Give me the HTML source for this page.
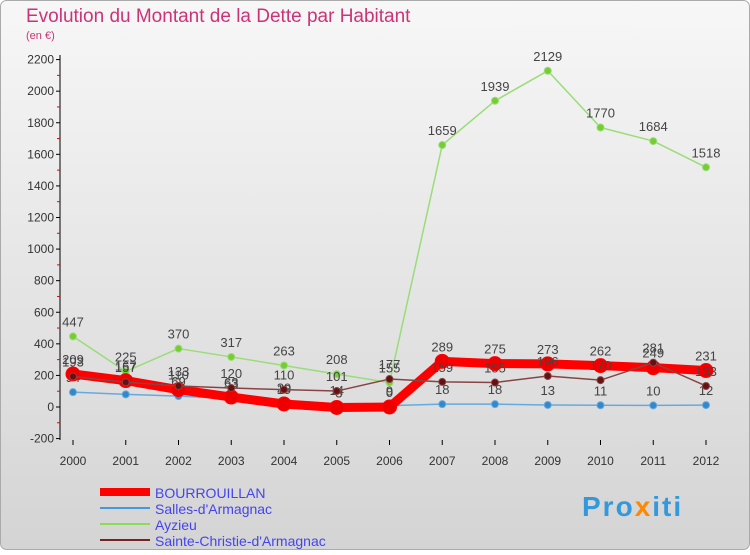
<!DOCTYPE html>
<html><head><meta charset="utf-8"><style>
body{margin:0;background:#fff}
#c{width:750px;height:550px;position:relative;font-family:"Liberation Sans",sans-serif}
text{font-family:"Liberation Sans",sans-serif}
</style></head><body>
<div id="c">
<svg id="s" width="750" height="550" xmlns="http://www.w3.org/2000/svg">
<defs><linearGradient id="bg" x1="0" y1="0" x2="0" y2="1"><stop offset="0" stop-color="#f7f7f7"/><stop offset="1" stop-color="#d4d4d4"/></linearGradient></defs>
<rect x="0.5" y="0.5" width="749" height="549" rx="6" fill="url(#bg)" stroke="#aaa"/>
<text x="26" y="22" font-size="19" fill="#cc3377">Evolution du Montant de la Dette par Habitant</text>
<text x="26" y="39" font-size="11" fill="#cc3377">(en €)</text>
<g id="axes"></g><g id="series"></g>
<g>
<line x1="100" y1="492" x2="150" y2="492" stroke="#ff0000" stroke-width="8"/>
<text x="155" y="498" font-size="14" fill="#4444ee">BOURROUILLAN</text>
<line x1="100" y1="508" x2="150" y2="508" stroke="#4499dd" stroke-width="2"/>
<text x="155" y="514" font-size="14" fill="#4444ee">Salles-d'Armagnac</text>
<line x1="100" y1="524" x2="150" y2="524" stroke="#88dd55" stroke-width="2"/>
<text x="155" y="530" font-size="14" fill="#4444ee">Ayzieu</text>
<line x1="100" y1="540" x2="150" y2="540" stroke="#772222" stroke-width="2"/>
<text x="155" y="546" font-size="14" fill="#4444ee">Sainte-Christie-d'Armagnac</text>
</g>
<text x="582" y="516" font-size="28" font-weight="bold" letter-spacing="2" fill="#3399dd">Pro<tspan fill="#ff8800">x</tspan>iti</text>
</svg></div>
<script>
const years=[2000,2001,2002,2003,2004,2005,2006,2007,2008,2009,2010,2011,2012];
const yTicks=[-200,0,200,400,600,800,1000,1200,1400,1600,1800,2000,2200];
const bourrouillan=[209,167,110,63,19,-3,0,289,275,273,262,249,231];
const salles=[94,80,69,53,29,14,9,18,18,13,11,10,12];
const ayzieu=[447,225,370,317,263,208,155,1659,1939,2129,1770,1684,1518];
const sainteChristie=[193,157,133,120,110,101,177,159,155,196,170,281,133];
const NS="http://www.w3.org/2000/svg";
function X(i){return 73+i*52.75;}
function Y(v){return 407-v*(379/2400);}
function mk(t,a,p){const e=document.createElementNS(NS,t);for(const k in a)e.setAttribute(k,a[k]);p.appendChild(e);return e;}
const ax=document.getElementById('axes');
const yl=mk('line',{x1:60,y1:55,x2:60,y2:440,stroke:'#000'},ax);


yTicks.forEach(v=>{const y=Y(v);
 mk('line',{x1:56,y1:y,x2:60,y2:y,stroke:'#000'},ax);
 if(v<2200)mk('line',{x1:57,y1:y-15.8,x2:60,y2:y-15.8,stroke:'#e00'},ax);
 const t=mk('text',{x:54,y:y+4,'font-size':12,fill:'#333','text-anchor':'end'},ax);t.textContent=v;
 
 });
years.forEach((yr,i)=>{mk('line',{x1:X(i),y1:440,x2:X(i),y2:445,stroke:'#000'},ax);
 const t=mk('text',{x:X(i),y:465,'font-size':12,fill:'#333','text-anchor':'middle'},ax);t.textContent=yr;
 
 });
const sg=document.getElementById('series');
function draw(vals,name,color,w,r,fill){
 const g=mk('g',{},sg);
 
 
 mk('polyline',{points:vals.map((v,i)=>X(i)+','+Y(v)).join(' '),fill:'none',stroke:color,'stroke-width':w,'stroke-linejoin':'round'},g);
 vals.forEach((v,i)=>{const c=mk('circle',{cx:X(i),cy:Y(v),r:r,fill:fill,stroke:color,'stroke-width':1},g);
  
  
  const t=mk('text',{x:X(i),y:Y(v)-10,'font-size':13,fill:'#444','text-anchor':'middle'},g);t.textContent=v;
  
  });
}
draw(ayzieu,'ayzieu','#99dd77',1.5,3.5,'#77cc33');
draw(salles,'salles','#66aadd',1.5,3.5,'#3388cc');
draw(bourrouillan,'bourrouillan','#ff0000',9,7,'#ee0000');
draw(sainteChristie,'sainte-christie','#884444',1.5,3.5,'#661111');
</script>
</body></html>
